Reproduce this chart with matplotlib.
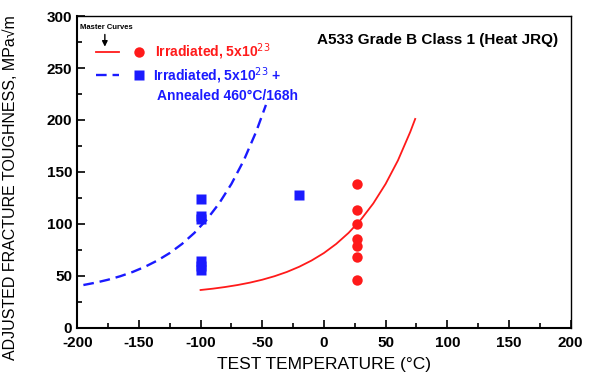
import matplotlib
matplotlib.use("Agg")
import matplotlib.pyplot as plt
from matplotlib.ticker import MultipleLocator

plt.rcParams['font.family'] = ['Liberation Sans', 'DejaVu Sans']
plt.rcParams['axes.unicode_minus'] = False

# Irradiated data (red circles)
irr_T = [27, 27, 27, 27, 27, 27, 27]
irr_K = [138, 113, 100, 85, 79, 68, 46]
# Irradiated + annealed data (blue squares)
ann_T = [-100, -100, -100, -100, -100, -100, -20]
ann_K = [124, 108, 105, 64, 59, 56, 128]

# Master curves
red_T = [-100, -90, -80, -70, -60, -50, -40, -30, -20, -10, 0, 10, 20, 30, 40, 50, 60, 70, 74]
red_K = [36.3, 37.6, 39.2, 41.1, 43.4, 46.2, 49.6, 53.7, 58.7, 64.7, 71.9, 80.7, 91.3, 104.1,
         119.6, 138.4, 161.0, 188.5, 201]
blue_T = [-195, -185, -175, -165, -155, -145, -135, -125, -115, -105, -95, -85, -75, -65, -55, -47]
blue_K = [41.1, 43.4, 46.2, 49.6, 53.7, 58.7, 64.7, 71.9, 80.7, 91.3, 104.1, 119.6, 138.4,
          161.0, 188.5, 214.5]

RED = '#ff1a1a'
BLUE = '#1a1aff'

fig = plt.figure(figsize=(5.94, 3.8), dpi=100)
ax = fig.add_axes([0.130, 0.1376, 0.8306, 0.820])

ax.plot(red_T, red_K, color=RED, lw=1.3)
ax.plot(blue_T, blue_K, color=BLUE, lw=1.7, dashes=(4.5, 2.5))
ax.plot(irr_T, irr_K, 'o', color=RED, ms=7.5, mec='none')
ax.plot(ann_T, ann_K, 's', color=BLUE, ms=7.5, mec='none')

ax.set_xlim(-200, 200)
ax.set_ylim(0, 300)
ax.xaxis.set_major_locator(MultipleLocator(50))
ax.xaxis.set_minor_locator(MultipleLocator(25))
ax.yaxis.set_major_locator(MultipleLocator(50))
ax.yaxis.set_minor_locator(MultipleLocator(25))
ax.tick_params(which='both', direction='in', top=False, right=False, width=1.2)
ax.tick_params(which='major', length=6, labelsize=11)
ax.tick_params(which='minor', length=3.5)
ax.tick_params(axis='x', which='major', pad=6)
for lab in ax.get_xticklabels() + ax.get_yticklabels():
    lab.set_fontweight('bold')
for s in ax.spines.values():
    s.set_linewidth(1.0)
ax.spines['left'].set_linewidth(1.5)
ax.spines['bottom'].set_linewidth(1.5)

ax.set_xlabel('TEST TEMPERATURE (\u00b0C)', fontsize=12.5, labelpad=5)
ax.set_ylabel('ADJUSTED FRACTURE TOUGHNESS, MPa\u221am', fontsize=11.5)
ax.yaxis.set_label_coords(-0.12, 0.45)

# Title inside plot
ax.text(0.975, 0.923, 'A533 Grade B Class 1 (Heat JRQ)', transform=ax.transAxes,
        ha='right', va='center', fontsize=11, fontweight='bold', color='black')

# Legend drawn manually
ax.text(0.006, 0.962, 'Master Curves', transform=ax.transAxes, ha='left', va='center',
        fontsize=5.5, fontweight='bold')
ax.annotate('', xy=(0.056, 0.893), xytext=(0.056, 0.95), xycoords='axes fraction',
            arrowprops=dict(arrowstyle='-|>', color='black', lw=1, mutation_scale=8))
ax.plot([0.038, 0.085], [0.885, 0.885], transform=ax.transAxes, color=RED, lw=1.3)
ax.plot([0.125], [0.885], 'o', transform=ax.transAxes, color=RED, ms=7.5, mec='none')
ax.text(0.158, 0.885, 'Irradiated, 5x10$^{23}$', transform=ax.transAxes, ha='left', va='center',
        fontsize=10, fontweight='bold', color=RED)
ax.plot([0.038, 0.085], [0.81, 0.81], transform=ax.transAxes, color=BLUE, lw=1.7, dashes=(4.5, 2.5))
ax.plot([0.125], [0.81], 's', transform=ax.transAxes, color=BLUE, ms=7.5, mec='none')
ax.text(0.153, 0.81, 'Irradiated, 5x10$^{23}$ +', transform=ax.transAxes, ha='left', va='center',
        fontsize=10, fontweight='bold', color=BLUE)
ax.text(0.161, 0.745, 'Annealed 460\u00b0C/168h', transform=ax.transAxes, ha='left', va='center',
        fontsize=10, fontweight='bold', color=BLUE)

fig.savefig('out.png', dpi=100)
